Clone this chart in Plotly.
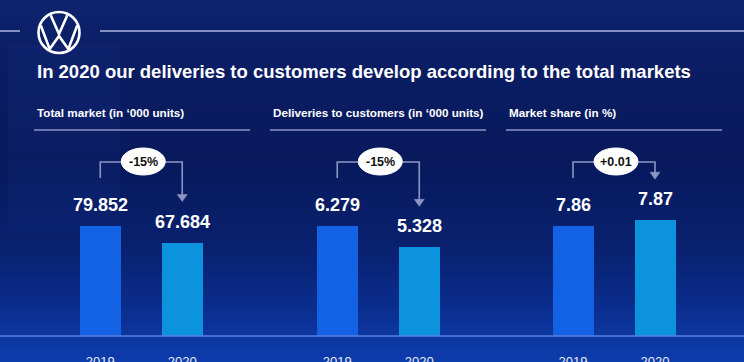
import plotly.graph_objects as go

# ---------------- data ----------------
years = ["2019", "2020"]
panel_titles = [
    "Total market (in \u2018000 units)",
    "Deliveries to customers (in \u2018000 units)",
    "Market share (in %)",
]
total_market = [79.852, 67.684]
deliveries = [6.279, 5.328]
market_share = [7.86, 7.87]
value_labels = [["79.852", "67.684"], ["6.279", "5.328"], ["7.86", "7.87"]]
change_labels = ["-15%", "-15%", "+0.01"]
title_text = "In 2020 our deliveries to customers develop according to the total markets"

series = [total_market, deliveries, market_share]
y_ranges = [[0, 141.9], [1.43, 10.05], [7.655, 8.019]]

W, H = 744, 362
BASE_PX = 336
TOP_PX = 140
PLOT_H = BASE_PX - TOP_PX
dom_left_px = [59.25, 296.25, 532.0]
DOM_W = 164
sub_x_px = [35, 271, 507]

COL19 = "#1462e4"
COL20 = "#0b93de"
LINE_COL = "#8c95c4"


def X(px):
    return px / W


def Y(py):
    return 1 - py / H


fig = go.Figure()
shapes = []
annotations = []

# background gradient strips
keys = [(0, (14, 36, 112)), (60, (11, 29, 100)), (160, (8, 25, 92)),
        (250, (9, 33, 112)), (300, (10, 44, 138)), (336, (12, 54, 160)),
        (362, (13, 60, 172))]


def bg_col(y):
    for (y0, c0), (y1, c1) in zip(keys[:-1], keys[1:]):
        if y0 <= y <= y1:
            t = (y - y0) / (y1 - y0)
            return "rgb(%d,%d,%d)" % tuple(round(a + (b - a) * t) for a, b in zip(c0, c1))
    return "rgb(13,60,172)"


step = 3
for y in range(0, H, step):
    shapes.append(dict(type="rect", xref="paper", yref="paper", x0=0, x1=1,
                       y0=Y(y + step + 1), y1=Y(y), fillcolor=bg_col(y + step / 2),
                       line=dict(width=0), layer="below"))
# subtle lighter band at left
shapes.append(dict(type="rect", xref="paper", yref="paper", x0=X(8), x1=X(120),
                   y0=Y(232), y1=Y(45), fillcolor="rgba(40,90,200,0.07)",
                   line=dict(width=0), layer="below"))

# top rule + logo
shapes.append(dict(type="line", xref="paper", yref="paper", x0=0, x1=X(20), y0=Y(31), y1=Y(31),
                   line=dict(color="#aab3dc", width=1.5)))
shapes.append(dict(type="line", xref="paper", yref="paper", x0=X(100), x1=1, y0=Y(31), y1=Y(31),
                   line=dict(color="#aab3dc", width=1.5)))
cx, cy, R = 59, 32.5, 20.5
shapes.append(dict(type="circle", xref="paper", yref="paper", x0=X(cx - R), x1=X(cx + R),
                   y0=Y(cy + R), y1=Y(cy - R), line=dict(color="white", width=2.6)))


def path(pts):
    return "M " + " L ".join("%f,%f" % (X(cx + dx), Y(cy + dy)) for dx, dy in pts)


shapes.append(dict(type="path", xref="paper", yref="paper",
                   path=path([(-8.3, -17.2), (0, 1.5), (8.3, -17.2)]),
                   line=dict(color="white", width=2.6)))
shapes.append(dict(type="path", xref="paper", yref="paper",
                   path=path([(-18.2, -7), (-9.3, 16.6), (0, 3.5), (9.3, 16.6), (18.2, -7)]),
                   line=dict(color="white", width=2.6)))

annotations.append(dict(text="<b>" + title_text + "</b>", xref="paper", yref="paper",
                        x=X(35), y=Y(72), xanchor="left", yanchor="middle", showarrow=False,
                        font=dict(family="Liberation Sans, Arial", size=18.5, color="white")))

# baseline
shapes.append(dict(type="line", xref="paper", yref="paper", x0=0, x1=1, y0=Y(BASE_PX), y1=Y(BASE_PX),
                   line=dict(color="#5b7fe0", width=1.5)))

for i in range(3):
    xa = "x" if i == 0 else "x%d" % (i + 1)
    ya = "y" if i == 0 else "y%d" % (i + 1)
    vals = series[i]
    fig.add_trace(go.Bar(x=years, y=vals, xaxis=xa, yaxis=ya, width=0.5,
                         marker=dict(color=[COL19, COL20], line=dict(width=0)),
                         hoverinfo="skip", showlegend=False))
    dom = [X(dom_left_px[i]), X(dom_left_px[i] + DOM_W)]
    fig.layout[("xaxis" if i == 0 else "xaxis%d" % (i + 1))] = dict(
        domain=dom, anchor=ya, type="category", range=[-0.5, 1.5], showgrid=False,
        showline=False, zeroline=False, ticks="outside", ticklen=13, automargin=False,
        tickcolor="rgba(0,0,0,0)", tickfont=dict(family="Liberation Sans, Arial", size=13, color="#e6e9f5"),
        fixedrange=True)
    fig.layout[("yaxis" if i == 0 else "yaxis%d" % (i + 1))] = dict(
        domain=[Y(BASE_PX), Y(TOP_PX)], anchor=xa, range=y_ranges[i], visible=False,
        automargin=False, fixedrange=True)

    # subtitle + underline
    annotations.append(dict(text="<b>" + panel_titles[i] + "</b>", xref="paper", yref="paper",
                            x=X(sub_x_px[i]), y=Y(112), xanchor="left", yanchor="middle",
                            showarrow=False,
                            font=dict(family="Liberation Sans, Arial", size=11.7, color="white")))
    shapes.append(dict(type="line", xref="paper", yref="paper", x0=X(sub_x_px[i] - 1),
                       x1=X(sub_x_px[i] + 215), y0=Y(130), y1=Y(130),
                       line=dict(color=LINE_COL, width=1.5)))

    # value labels (placed at each bar's value, through the axes)
    for k in range(2):
        annotations.append(dict(text="<b>" + value_labels[i][k] + "</b>", xref=xa, yref=ya,
                                x=k, y=vals[k], yshift=21, xanchor="center",
                                yanchor="middle", showarrow=False,
                                font=dict(family="Liberation Sans, Arial", size=18, color="white")))

    # bracket with arrow
    c0 = dom_left_px[i] + 0.25 * DOM_W
    c1 = dom_left_px[i] + 0.75 * DOM_W
    r0, r1 = y_ranges[i]
    top1 = BASE_PX - (vals[1] - r0) / (r1 - r0) * PLOT_H
    tip = top1 - 41
    shapes.append(dict(type="path", xref="paper", yref="paper",
                       path="M %f,%f L %f,%f L %f,%f L %f,%f" % (
                           X(c0), Y(178), X(c0), Y(162), X(c1), Y(162), X(c1), Y(tip - 5)),
                       line=dict(color=LINE_COL, width=1.6)))
    shapes.append(dict(type="path", xref="paper", yref="paper",
                       path="M %f,%f L %f,%f L %f,%f Z" % (
                           X(c1 - 5), Y(tip - 7), X(c1 + 5), Y(tip - 7), X(c1), Y(tip)),
                       fillcolor=LINE_COL, line=dict(color=LINE_COL, width=0.5)))
    bx = (c0 + c1) / 2 + 2
    shapes.append(dict(type="circle", xref="paper", yref="paper", x0=X(bx - 22), x1=X(bx + 22),
                       y0=Y(175), y1=Y(148), fillcolor="white", line=dict(color="white", width=1)))
    annotations.append(dict(text="<b>" + change_labels[i] + "</b>", xref="paper", yref="paper",
                            x=X(bx), y=Y(161.5), xanchor="center", yanchor="middle",
                            showarrow=False,
                            font=dict(family="Liberation Sans, Arial", size=12.5, color="#111111")))

fig.update_layout(width=W, height=H, margin=dict(l=0, r=0, t=0, b=0, autoexpand=False),
                  paper_bgcolor="#0a1d66", plot_bgcolor="rgba(0,0,0,0)",
                  shapes=shapes, annotations=annotations, bargap=0)
fig.write_html("out.html", config={"displayModeBar": False},
               post_script="document.body.style.margin='0px';document.body.style.overflow='hidden';")
